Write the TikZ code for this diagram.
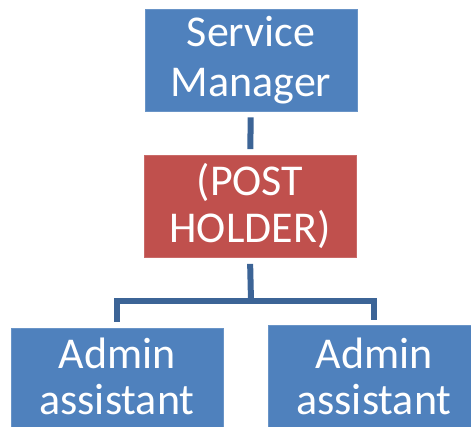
\documentclass[tikz,border=0pt]{standalone}
\usepackage{fontspec}
\setmainfont{Carlito}
\definecolor{boxblue}{HTML}{4F81BD}
\definecolor{boxred}{HTML}{C0504D}
\definecolor{connblue}{HTML}{3C6496}
\newcommand{\tstrut}[1]{\rule{0pt}{#1pt}}
\newcommand{\bstrut}{\rule[-10pt]{0pt}{10pt}}
\begin{document}
\begin{tikzpicture}[x=1pt,y=-1pt,
  orgbox/.style={minimum width=212pt, minimum height=102pt, inner sep=0pt,
    text width=212pt, align=center, text=white, line width=0.8pt},
  bluebox/.style={orgbox, fill=boxblue, draw=boxblue!85!white},
  redbox/.style={orgbox, fill=boxred, draw=boxred!85!white},
  conn/.style={draw=connblue, line width=6pt, line join=miter}]
\useasboundingbox (0,0) rectangle (471,427);
\clip (0,0) rectangle (471,427);
\node[bluebox, font=\fontsize{44}{50}\selectfont] (sm) at (251,60) {\tstrut{34}Service\\Manager\bstrut};
\node[redbox, font=\fontsize{44}{47}\selectfont] (ph) at (250,206.5) {\tstrut{36}(POST\\HOLDER)\bstrut};
\node[bluebox, font=\fontsize{44}{47}\selectfont] (a1) at (117,379.5) {\tstrut{34}Admin\\assistant\bstrut};
\node[bluebox, font=\fontsize{44}{47}\selectfont] (a2) at (374,376.5) {\tstrut{40}Admin\\assistant\bstrut};
\coordinate (bus) at (251,301);
\draw[conn, shorten <=6pt, shorten >=6pt] (sm) -- (ph);
\draw[conn, shorten <=6pt] (ph.south) -- (bus);
\draw[conn, shorten >=6pt] (bus) -| (a1.north);
\draw[conn, shorten >=5pt] (bus) -| (a2.north);
\end{tikzpicture}
\end{document}
